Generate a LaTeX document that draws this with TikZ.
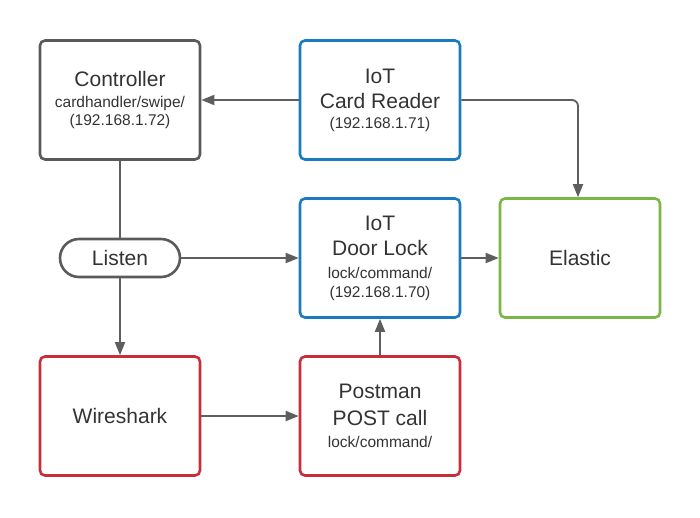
\documentclass[tikz,border=0pt]{standalone}
\usepackage{fontspec}
\setmainfont{Liberation Sans}
\usetikzlibrary{arrows.meta}
\definecolor{gborder}{HTML}{5A5A5A}
\definecolor{bborder}{HTML}{1A7BBF}
\definecolor{rborder}{HTML}{C92D39}
\definecolor{eborder}{HTML}{7AB648}
\definecolor{linec}{HTML}{5E5E5E}
\definecolor{txt}{HTML}{333333}
\newcommand{\smltxt}[1]{{\fontsize{15.5}{20}\selectfont #1}}
\begin{document}
\begin{tikzpicture}[x=1pt,y=-1pt,
  box/.style={draw, line width=2.6pt, rounded corners=5pt, minimum width=160pt, minimum height=119pt, align=center, text=txt, inner sep=0pt, font=\fontsize{21}{25}\selectfont},
  gbox/.style={box, draw=gborder},
  bbox/.style={box, draw=bborder},
  rbox/.style={box, draw=rborder},
  ebox/.style={box, draw=eborder},
  pill/.style={draw=gborder, line width=2.6pt, rounded corners=19pt, minimum width=120pt, minimum height=38pt, text=txt, inner sep=0pt, font=\fontsize{21}{25}\selectfont},
  conn/.style={draw=linec, line width=1.8pt},
  arr/.style={conn, -{Triangle[length=13pt,width=10pt]}}]
\useasboundingbox (0,0) rectangle (700,517);
\node[gbox] (ctrl) at (120,100) {Controller\\[-4pt]\smltxt{cardhandler/swipe/}\\[-7pt]\smltxt{(192.168.1.72)}};
\node[bbox] (card) at (380,100) {IoT\\Card Reader\\[-5pt]\smltxt{(192.168.1.71)}};
\node[bbox] (door) at (380,258) {IoT\\Door Lock\\[-2pt]\smltxt{lock/command/}\\[-6pt]\smltxt{(192.168.1.70)}};
\node[ebox] (elastic) at (580,258) {Elastic};
\node[rbox] (wire) at (120,416) {Wireshark};
\node[rbox] (post) at (380,416) {Postman\\[2pt]POST call\\[-3pt]\smltxt{lock/command/}};
\node[pill] (listen) at (120,258) {Listen};
\coordinate (corner) at (578,100);
\draw[arr] (card.west) -- (ctrl.east);
\draw[arr, rounded corners=6pt] (card.east) -- (corner) -- (corner |- elastic.north);
\draw[conn] (ctrl.south) -- (listen.north);
\draw[arr] (listen.east) -- (door.west);
\draw[arr] (listen.south) -- (wire.north);
\draw[arr] (door.east) -- (elastic.west);
\draw[arr] (wire.east) -- (post.west);
\draw[arr] (post.north) -- (door.south);
\end{tikzpicture}
\end{document}
